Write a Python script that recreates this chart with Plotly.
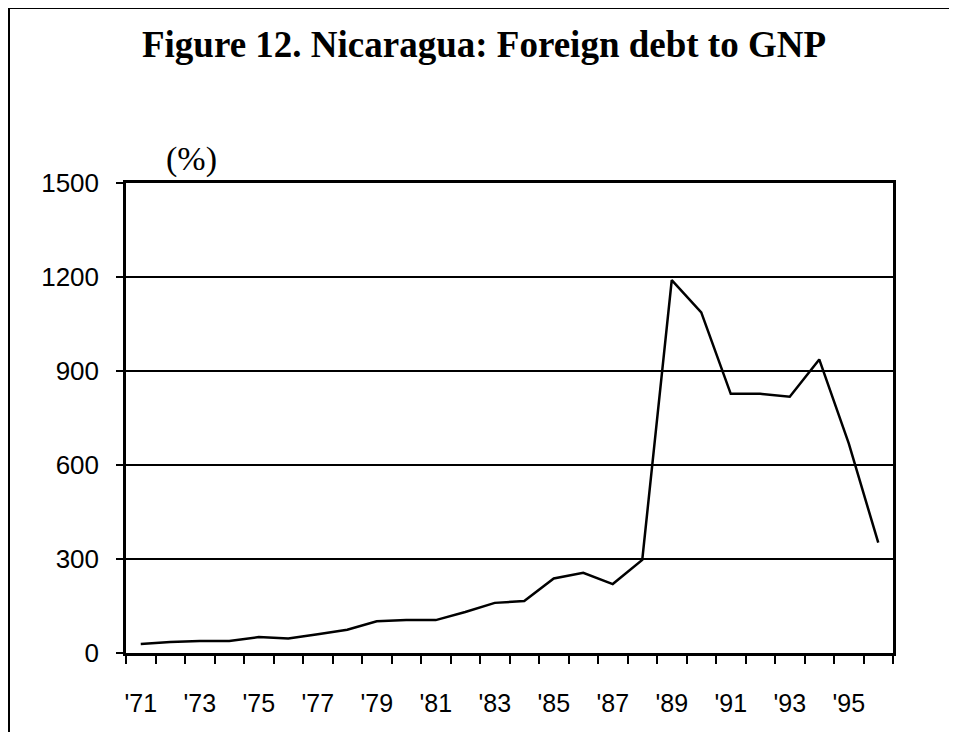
import plotly.graph_objects as go

years = list(range(1971, 1997))
debt_to_gnp = [29, 35, 38, 38, 51, 46, 60, 74, 101, 105, 105, 131, 160, 166,
               238, 256, 220, 297, 1190, 1087, 827, 827, 818, 937, 669, 352]
xtick_vals = list(range(1971, 1996, 2))
xtick_text = ["'" + str(y)[2:] for y in xtick_vals]
ytick_vals = [0, 300, 600, 900, 1200, 1500]

fig = go.Figure()
fig.add_trace(go.Scatter(x=years, y=debt_to_gnp, mode="lines",
                         line=dict(color="black", width=2.5), showlegend=False))

# page body has an 8px margin; figure sized to fit inside the window
W, H = 941, 724
L, T = 118, 175
plot_right, plot_bottom = 885, 645
R, B = W - plot_right, H - plot_bottom
pw, ph = plot_right - L, plot_bottom - T

def px_to_paper(xp, yp):
    return (xp - L) / pw, (plot_bottom - yp) / ph

fig.update_layout(
    width=W, height=H,
    margin=dict(l=L, r=R, t=T, b=B),
    paper_bgcolor="white", plot_bgcolor="white",
    title=dict(text="<b>Figure 12. Nicaragua: Foreign debt to GNP</b>",
               font=dict(family="Liberation Serif", size=37, color="black"),
               x=(484 - 8) / W, xanchor="center", y=1 - 36 / H, yanchor="middle"),
    xaxis=dict(range=[1970.5, 1996.5], tickvals=xtick_vals, ticktext=xtick_text,
               ticks="", showgrid=False, zeroline=False,
               showline=True, linecolor="black", linewidth=2.5, mirror=True,
               tickfont=dict(family="Liberation Sans", size=25, color="black"),
               ticklabelstandoff=26,
               minor=dict(tick0=1970.5, dtick=1, ticks="outside", ticklen=8,
                          tickwidth=1.5, tickcolor="black", showgrid=False)),
    yaxis=dict(range=[0, 1500], tickvals=ytick_vals, ticks="outside", ticklen=7,
               tickwidth=1.5, tickcolor="black",
               showgrid=True, gridcolor="black", gridwidth=1.5, zeroline=False,
               showline=True, linecolor="black", linewidth=2.5, mirror=True,
               tickfont=dict(family="Liberation Sans", size=26, color="black"),
               ticklabelstandoff=12),
    font=dict(family="Liberation Sans", color="black"),
)

ax, ay = px_to_paper(183, 151)
fig.add_annotation(text="(%)", xref="paper", yref="paper", x=ax, y=ay,
                   showarrow=False, xanchor="center", yanchor="middle",
                   font=dict(family="Liberation Serif", size=34, color="black"))

# figure frame (left and top edges)
x0, y0 = px_to_paper(1, 0)
x1, _ = px_to_paper(W, 0)
_, yb = px_to_paper(1, H)
fig.add_shape(type="line", xref="paper", yref="paper", x0=x0, y0=y0, x1=x1, y1=y0,
              line=dict(color="black", width=2))
fig.add_shape(type="line", xref="paper", yref="paper", x0=x0, y0=y0, x1=x0, y1=yb,
              line=dict(color="black", width=2))

fig.write_html("out.html")
